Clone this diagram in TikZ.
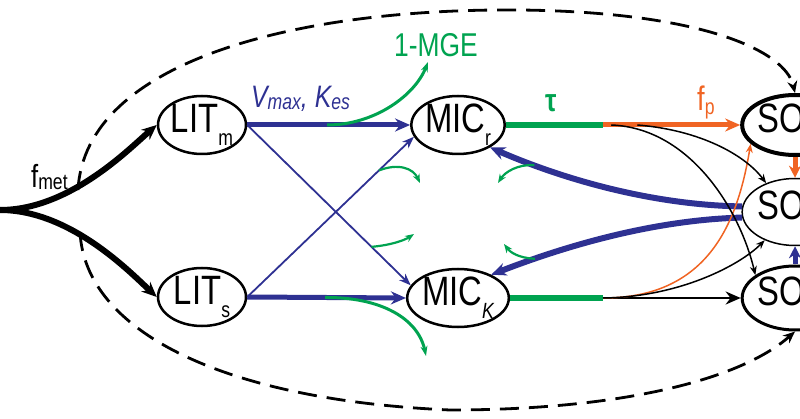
\documentclass[tikz,border=0pt]{standalone}
\usepackage{fontspec}
\newfontfamily\sansn[FakeStretch=0.8]{Liberation Sans}
\usetikzlibrary{arrows.meta,shapes.geometric}
\definecolor{navy}{RGB}{46,49,146}
\definecolor{mgreen}{RGB}{0,163,80}
\definecolor{morange}{RGB}{240,100,35}
\newcommand\lsub[2][0pt]{\raisebox{-#1}{\fontsize{22}{22}\selectfont #2}}
\tikzset{
  pool/.style={ellipse, draw, line width=2.5pt, inner sep=0pt,
    minimum width=88pt, minimum height=58pt, text height=28pt, text depth=12pt,
    font=\sansn\fontsize{41}{41}\selectfont},
  lbl/.style={inner sep=0pt, anchor=base west, font=\sansn\fontsize{30}{30}\selectfont},
  tipbig/.style={-{Stealth[length=15pt,width=13pt]}},
  tipsmall/.style={-{Stealth[length=9pt,width=7pt]}},
  dashline/.style={line width=2.8pt, dash pattern=on 19pt off 10pt, -{Stealth[length=12pt,width=10pt]}},
  navyflux/.style={navy, line width=5pt, tipbig},
  navythin/.style={navy, line width=1.8pt, -{Stealth[length=12pt,width=9pt]}},
  lossthick/.style={mgreen, line width=3pt, -{Stealth[length=10pt,width=7pt]}},
  lossthin/.style={mgreen, line width=2.2pt, tipsmall},
  greenbar/.style={mgreen, line width=6pt},
  thinflux/.style={line width=1.5pt, tipsmall}
}
\begin{document}
\begin{tikzpicture}[x=1pt,y=-1pt]
\useasboundingbox (0,0) rectangle (800,419);
% Pools
\node[pool] (LITm) at (202,125) {LIT\lsub[13pt]{m}};
\node[pool] (LITs) at (202,297) {LIT\lsub[13pt]{s}};
\node[pool, minimum width=90pt] (MICr) at (458,125) {MIC\lsub[13pt]{r}};
\node[pool, minimum width=90pt] (MICk) at (458,298) {MIC\lsub[13pt]{\itshape K}};
\node[pool, line width=4pt, minimum width=100pt, minimum height=60pt] (SOMt) at (795,125) {SOM};
\node[pool, line width=1.5pt, minimum width=96pt, minimum height=67pt] (SOMm) at (795,212) {SOM};
\node[pool, line width=3pt, minimum width=96pt, minimum height=64pt] (SOMb) at (795,298) {SOM};
% Dashed bypass
\coordinate (dU) at (78,190);
\coordinate (dL) at (80,232);
\draw[dashline] (dU) .. controls (85,60) and (300,8) .. (520,10) .. controls (700,12) and (785,50) .. (SOMt.north);
\draw[dashline] (dL) .. controls (85,330) and (220,400) .. (450,410) .. controls (620,410) and (740,380) .. (SOMb.south);
% Inputs
\coordinate (src) at (0,210);
\draw[line width=6pt, tipbig] (src) .. controls (70,210) and (130,148) .. (LITm.west);
\draw[line width=6pt, tipbig] (src) .. controls (70,210) and (130,272) .. (LITs.west);
\node[lbl, font=\sansn\fontsize{32}{32}\selectfont] (fmet) at (31,188) {f\lsub[2pt]{met}};
% Litter to microbes
\draw[navyflux] (LITm.east) -- coordinate[pos=.49] (gA) (MICr.west);
\draw[navyflux] (LITs.east) -- coordinate[pos=.49] (gD) (MICk.west);
\draw[navythin] (LITm.east) -- coordinate[pos=.76] (gC) (MICk.165);
\draw[navythin] (LITs.east) -- coordinate[pos=.79] (gB) (MICr.195);
\node[lbl, font=\sansn\itshape\fontsize{31}{31}\selectfont, text=navy] (vlab) at (251,108) {V\lsub[2pt]{max}, K\lsub[2pt]{es}};
% Feedback from SOM
\draw[navyflux, line width=6pt] (SOMm.174) .. controls (650,205) and (560,178) .. coordinate[pos=.8] (gE) (MICr.-35);
\draw[navyflux, line width=6pt] (SOMm.186) .. controls (650,220) and (560,248) .. coordinate[pos=.8] (gF) (MICk.35);
% Losses
\coordinate (gAend) at (428,62);
\coordinate (gBend) at (420,183);
\coordinate (gCend) at (414,234);
\coordinate (gDend) at (426,356);
\coordinate (gEend) at (498,183);
\coordinate (gFend) at (504,244);
\draw[lossthick] (gA) .. controls (375,125) and (415,95) .. (gAend);
\draw[lossthin] (gB) .. controls (398,163) and (413,168) .. (gBend);
\draw[lossthin] (gC) .. controls (392,245) and (405,240) .. (gCend);
\draw[lossthick] (gD) .. controls (380,297) and (418,318) .. (gDend);
\draw[lossthin] (gE) .. controls (518,164) and (505,172) .. (gEend);
\draw[lossthin] (gF) .. controls (518,258) and (510,252) .. (gFend);
\node[lbl, text=mgreen, font=\sansn\fontsize{33}{33}\selectfont] (mge) at (394,57) {1-MGE};
% Microbes to SOM
\coordinate (tr) at (603,125);
\coordinate (tk) at (603,298);
\draw[greenbar] (MICr.east) -- (tr);
\draw[greenbar] (MICk.east) -- (tk);
\node[lbl, text=mgreen, font=\sansn\bfseries\fontsize{32}{32}\selectfont] (tau) at (545,112) {τ};
\draw[morange, line width=5pt, tipbig] (tr) -- coordinate[pos=.06] (br1) coordinate[pos=.25] (br2) (SOMt.west);
\node[lbl, text=morange, font=\sansn\fontsize{34}{34}\selectfont] (fp) at (697,111) {f\lsub[4pt]{p}};
\draw[line width=2.5pt, tipbig] (tk) -- (SOMb.west);
\draw[morange, line width=1.5pt, tipsmall] (tk) .. controls (710,298) and (738,220) .. (SOMt.203);
\draw[thinflux] (br1) .. controls (690,128) and (740,210) .. (SOMb.150);
\draw[thinflux] (br2) .. controls (700,130) and (745,155) .. (SOMm.135);
\draw[thinflux] (tk) .. controls (680,297) and (740,265) .. (SOMm.223);
% SOM exchange
\draw[morange, line width=5pt, -{Stealth[length=12pt,width=12pt]}] (SOMt.south) -- (SOMm.north);
\draw[navy, line width=5pt, -{Stealth[length=12pt,width=12pt]}] (SOMb.north) -- (SOMm.south);
\end{tikzpicture}
\end{document}
